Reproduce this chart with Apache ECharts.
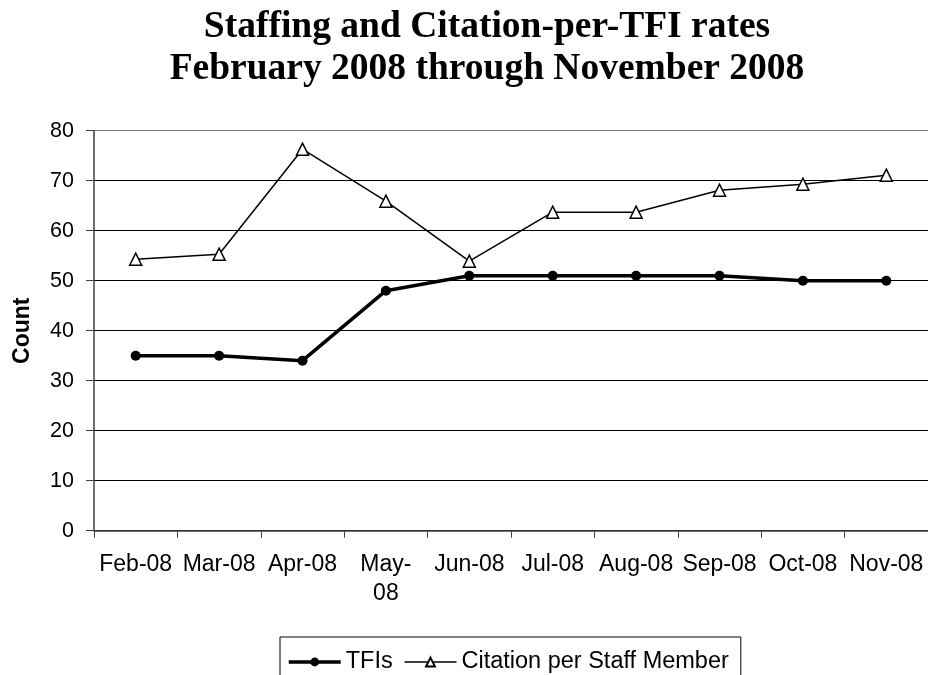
<!DOCTYPE html>
<html>
<head>
<meta charset="utf-8">
<script src="https://cdn.jsdelivr.net/npm/echarts@6/dist/echarts.min.js"></script>
<style>
  html, body { margin: 0; padding: 0; background: #fff; }
  #chart { width: 928px; height: 675px; }
</style>
</head>
<body>
<div id="chart"></div>
<script>
// Monthly staffing (TFIs) and citations per staff member, Feb–Nov 2008
const months = ['Feb-08', 'Mar-08', 'Apr-08', 'May-08', 'Jun-08', 'Jul-08', 'Aug-08', 'Sep-08', 'Oct-08', 'Nov-08'];
const tfis = [35, 35, 34, 48, 51, 51, 51, 51, 50, 50];
const citationPerStaff = [54.3, 55.3, 76.3, 65.9, 53.9, 63.7, 63.7, 68.1, 69.3, 71.1];
const yTicks = [0, 10, 20, 30, 40, 50, 60, 70, 80];

const sans = 'Liberation Sans, Arial, sans-serif';
const serif = 'Liberation Serif, Times New Roman, serif';

const chart = echarts.init(document.getElementById('chart'), null, { renderer: 'canvas' });

// grid lines are black, the topmost one (plot border) is grey
const gridColors = yTicks.map((v, i) => (i === yTicks.length - 1 ? '#808080' : '#000000'));

chart.setOption({
  animation: false,
  backgroundColor: '#ffffff',
  title: {
    text: 'Staffing and Citation-per-TFI rates\nFebruary 2008 through November 2008',
    left: 482,
    top: 1,
    textAlign: 'center',
    textStyle: {
      fontFamily: serif,
      fontWeight: 'bold',
      fontSize: 37.5,
      lineHeight: 42,
      color: '#000'
    }
  },
  grid: {
    left: 94,
    right: 0,
    top: 130.7,
    bottom: 144.3,
    containLabel: false
  },
  legend: {
    top: 637,
    left: 280,
    itemWidth: 52,
    itemHeight: 11,
    itemGap: 11,
    padding: [13, 12, 12, 7],
    borderColor: '#000',
    borderWidth: 1,
    textStyle: { fontFamily: sans, fontSize: 23.5, color: '#000', padding: [0, 0, 0, 0] },
    data: [
      { name: 'TFIs', lineStyle: { width: 3.5, color: '#000' } },
      { name: 'Citation per Staff Member', lineStyle: { width: 1.5, color: '#000' } }
    ]
  },
  xAxis: {
    type: 'category',
    data: months,
    boundaryGap: true,
    axisLine: { lineStyle: { color: '#404040', width: 1.5 } },
    axisTick: { show: true, length: 7, alignWithLabel: false, lineStyle: { color: '#404040' } },
    axisLabel: {
      fontFamily: sans,
      fontSize: 23,
      color: '#000',
      margin: 19,
      lineHeight: 29,
      interval: 0,
      formatter: v => (v === 'May-08' ? 'May-\n08' : v)
    },
    splitLine: { show: false }
  },
  yAxis: {
    type: 'value',
    min: yTicks[0],
    max: yTicks[yTicks.length - 1],
    interval: 10,
    name: 'Count',
    nameLocation: 'middle',
    nameGap: 60,
    nameRotate: 90,
    nameTextStyle: { fontFamily: sans, fontWeight: 'bold', fontSize: 23, color: '#000' },
    axisLine: { show: true, lineStyle: { color: '#404040', width: 1.5 } },
    axisTick: { show: true, length: 8, lineStyle: { color: '#404040' } },
    axisLabel: { fontFamily: sans, fontSize: 21.5, color: '#000', margin: 20 },
    splitLine: { show: true, lineStyle: { color: gridColors, width: 1 } }
  },
  series: [
    {
      name: 'TFIs',
      type: 'line',
      data: tfis,
      symbol: 'circle',
      symbolSize: 10,
      z: 3,
      lineStyle: { color: '#000', width: 3.5 },
      itemStyle: { color: '#000', borderColor: '#000', borderWidth: 0 }
    },
    {
      name: 'Citation per Staff Member',
      type: 'line',
      data: citationPerStaff,
      symbol: 'triangle',
      symbolSize: 12,
      z: 2,
      lineStyle: { color: '#000', width: 1.5 },
      itemStyle: { color: '#fff', borderColor: '#000', borderWidth: 1.5 }
    }
  ]
});
</script>
</body>
</html>
